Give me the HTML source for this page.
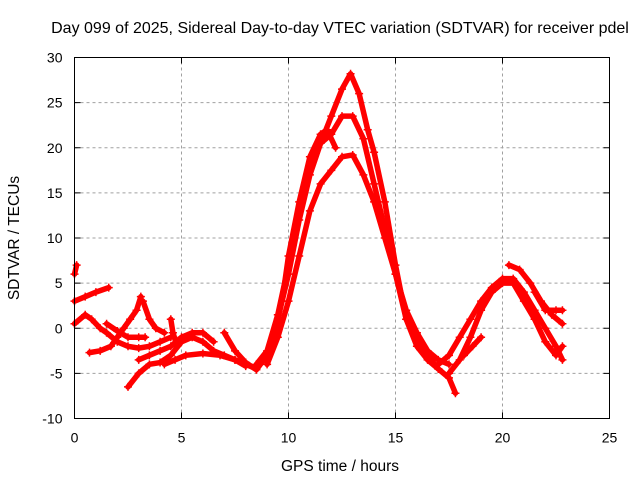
<!DOCTYPE html>
<html><head><meta charset="utf-8"><style>
body{margin:0;background:#fff;}
svg{display:block;font-family:"Liberation Sans",sans-serif;}
</style></head><body>
<svg id="chart" width="640" height="480">
<rect x="0" y="0" width="640" height="480" fill="#fff"/>
<text x="340" y="33" text-anchor="middle" font-size="16">Day 099 of 2025, Sidereal Day-to-day VTEC variation (SDTVAR) for receiver pdel</text>
<text x="340" y="471" text-anchor="middle" font-size="15.5">GPS time / hours</text>
<text transform="translate(19,238) rotate(-90)" text-anchor="middle" font-size="15.5">SDTVAR / TECUs</text>
<g id="grid"></g><g id="ticks"></g><g id="marks"></g>
<rect x="74.5" y="57.5" width="535" height="361" fill="none" stroke="#000"/>
</svg>
<script>
const xTicks=[0,5,10,15,20,25];
const yTicks=[-10,-5,0,5,10,15,20,25,30];
const trackL1=[[0,6],[0.1,7]];
const trackL2=[[0,3],[0.5,3.5],[1,4],[1.6,4.5]];
const trackL3=[[0,0.5],[0.5,1.5],[0.8,1],[1.2,0],[1.5,-0.5],[2,-1.5],[2.5,-2],[3,-2.2],[3.5,-2],[4,-1.5],[4.5,-1]];
const trackL4=[[0.7,-2.7],[1.2,-2.5],[1.7,-2],[2,-1],[2.3,0],[2.6,1],[2.9,2],[3.1,3.5]];
const trackL5=[[1.5,0.5],[2,-0.3],[2.5,-1],[3,-1],[3.3,-1]];
const trackL6=[[3.2,3],[3.5,1],[3.8,0],[4.2,-0.5]];
const trackL7=[[2.5,-6.5],[3,-5],[3.5,-4],[4,-3.8],[4.5,-3],[5,-1.5],[5.5,-1],[6,-1.5],[6.5,-2.5],[7,-3],[7.5,-3.5],[8,-4],[8.5,-4.5]];
const trackL8=[[3,-3.5],[3.5,-3],[4,-2.5],[4.5,-2],[5,-1],[5.5,-0.5],[6,-0.5],[6.5,-1.5]];
const trackL9=[[4.2,-4],[4.7,-3.5],[5.2,-3],[6,-2.8],[6.8,-3],[7.5,-3.5],[8,-4.2]];
const trackL10=[[4.5,1],[4.6,-0.5],[4.8,-2]];
const trackP1=[[7,-0.5],[7.5,-2.5],[8,-3.8],[8.5,-4.6],[9,-3],[9.5,1],[10,6],[10.5,12],[11,17],[11.5,20.5],[12,23.5],[12.5,26.5],[12.9,28.2],[13.3,26],[13.7,22],[14,19.5],[14.5,14],[15,7],[15.5,1],[16,-1],[16.5,-3],[17,-4.5],[17.5,-5.5],[17.8,-7.2]];
const trackP2=[[8.5,-4],[9,-2.5],[9.5,1.5],[10,7],[10.5,13],[11,18],[11.5,20.5],[12,21.5],[12.5,23.5],[13,23.5],[13.5,21],[14,16],[14.5,11],[15,6],[15.5,2],[16,-0.5],[16.5,-2.5],[17,-3.5],[17.5,-4]];
const trackP3=[[9,-4],[9.5,-1],[10,3],[10.5,8],[11,13],[11.5,16],[12,17.5],[12.5,19],[13,19.2],[13.5,17],[14,14],[14.5,10],[15,6],[15.5,1],[16,-2],[16.5,-3.5],[17,-4.5]];
const trackP4=[[9.7,3],[10,8],[10.5,14],[11,19],[11.5,21.5],[11.8,22],[12.2,20]];
const trackR1=[[17,-4],[17.5,-3],[18,-1],[18.5,1],[19,3],[19.5,4.5],[20,5.5],[20.5,5.5],[21,4],[21.5,2],[22,0],[22.5,-2],[22.8,-3.5]];
const trackR2=[[17.5,-5],[18,-3.5],[18.5,-1],[19,2],[19.5,4],[20,5],[20.5,5],[21,3],[21.5,1],[22,-1.5],[22.5,-3],[22.8,-2]];
const trackR3=[[20.3,7],[20.8,6.5],[21.3,5],[21.8,3],[22.3,1.5],[22.8,0.5]];
const trackR4=[[21.5,4],[22,2],[22.5,2],[22.8,2]];
const trackR5=[[18.2,-3],[18.6,-2],[19,-1]];
const tracks=[trackL1,trackL2,trackL3,trackL4,trackL5,trackL6,trackL7,trackL8,trackL9,trackL10,trackP1,trackP2,trackP3,trackP4,trackR1,trackR2,trackR3,trackR4,trackR5];

const NS="http://www.w3.org/2000/svg";
const X0=74.5,X1=609.5,Y0=418.5,Y1=57.5;
function sx(v){return X0+(v-0)/(25-0)*(X1-X0);}
function sy(v){return Y0-(v+10)/(40)*(Y0-Y1);}
const grid=document.getElementById('grid'),ticks=document.getElementById('ticks'),marks=document.getElementById('marks');
function mk(tag,attrs,parent){const e=document.createElementNS(NS,tag);for(const k in attrs)e.setAttribute(k,attrs[k]);parent.appendChild(e);return e;}
xTicks.forEach(t=>{
  const x=sx(t);
  if(t>0&&t<25){const g=mk('line',{x1:x,x2:x,y1:Y0,y2:Y1,stroke:'#a0a0a0','stroke-dasharray':'3,3'},grid);
  
  }
  mk('line',{x1:x,x2:x,y1:Y0,y2:Y0-6,stroke:'#000'},ticks);
  mk('line',{x1:x,x2:x,y1:Y1,y2:Y1+6,stroke:'#000'},ticks);
  const tx=mk('text',{x:x,y:Y0+24,'text-anchor':'middle','font-size':'14'},ticks);
  tx.textContent=t;
  
  
});
yTicks.forEach(t=>{
  const y=sy(t);
  if(t>-10&&t<30){const g=mk('line',{x1:X0,x2:X1,y1:y,y2:y,stroke:'#a0a0a0','stroke-dasharray':'3,3'},grid);
  
  }
  mk('line',{x1:X0,x2:X0+6,y1:y,y2:y,stroke:'#000'},ticks);
  mk('line',{x1:X1,x2:X1-6,y1:y,y2:y,stroke:'#000'},ticks);
  const tx=mk('text',{x:X0-12,y:y+5,'text-anchor':'end','font-size':'14'},ticks);
  tx.textContent=t;
  
  
});
tracks.forEach((tr)=>{
  const pts=tr.map(p=>sx(p[0])+','+sy(p[1])).join(' ');
  const pl=mk('polyline',{points:pts,fill:'none',stroke:'#f00','stroke-width':'5.5','stroke-linejoin':'round','stroke-linecap':'round'},marks);
  
  
  tr.forEach(p=>{
    const x=sx(p[0]),y=sy(p[1]);
    const m=mk('path',{d:`M${x-4},${y}H${x+4}M${x},${y-4}V${y+4}`,stroke:'#f00','stroke-width':'1.5'},marks);
    
    
  });
});
</script>
</body></html>
